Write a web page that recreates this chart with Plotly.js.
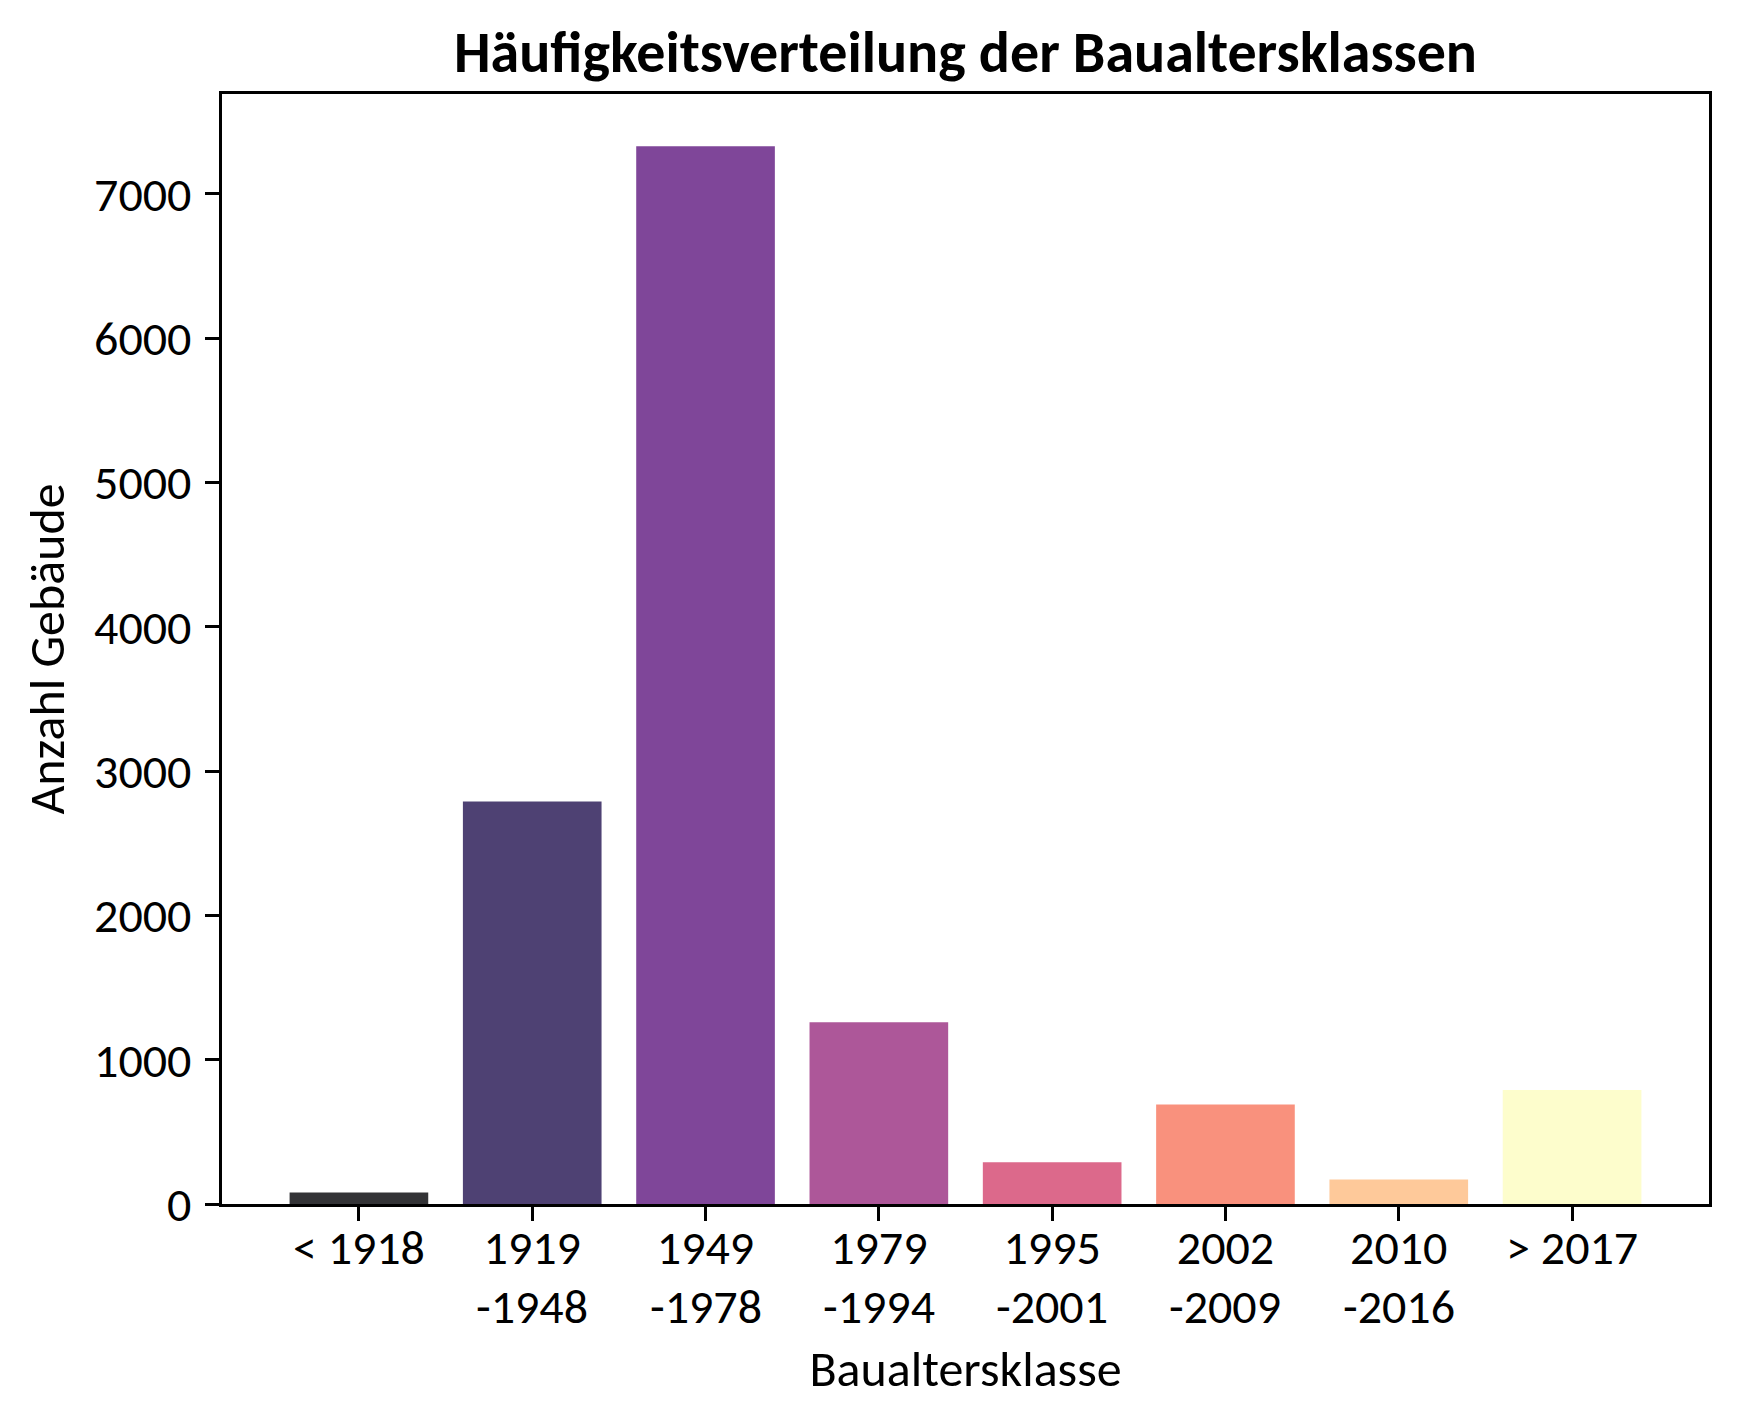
<!DOCTYPE html>
<html>
<head>
<meta charset="utf-8">
<script src="https://cdn.plot.ly/plotly-3.0.1.min.js"></script>
<style>
  body { margin: 0; background: #fff; }
  #chart { width: 1739px; height: 1418px; }
</style>
</head>
<body>
<div id="chart"></div>
<script>
// Baualtersklassen and number of buildings per class
const categories = ['< 1918', '1919-1948', '1949-1978', '1979-1994', '1995-2001', '2002-2009', '2010-2016', '> 2017'];
const tickLine1 = ['< 1918', '1919', '1949', '1979', '1995', '2002', '2010', '> 2017'];
const tickLine2 = ['', '-1948', '-1978', '-1994', '-2001', '-2009', '-2016', ''];
const counts = [80, 2790, 7330, 1260, 290, 690, 170, 790];
const yTicks = [0, 1000, 2000, 3000, 4000, 5000, 6000, 7000];

// magma colour steps, drawn with 0.8 opacity
const barColors = ['#000004', '#221150', '#5f187f', '#982d80', '#d3436e', '#f8765c', '#febb81', '#fcfdbf'];

const fontFamily = 'Carlito, Calibri, Lato, sans-serif';
const tickSize = 48;

const trace = {
  x: categories,
  y: counts,
  type: 'bar',
  marker: {
    color: barColors,
    opacity: 0.8,
    line: { width: 0 },
  },
  hoverinfo: 'none',
};

const axisLine = {
  showline: true,
  linecolor: '#000',
  linewidth: 3,
  mirror: true,
  ticks: 'outside',
  ticklen: 14,
  tickwidth: 3,
  tickcolor: '#000',
  showgrid: false,
  zeroline: false,
};

// second line of the two-line tick labels (plotly's <br> spacing is too loose)
const secondLines = categories
  .map((c, i) => ({ c, t: tickLine2[i] }))
  .filter((d) => d.t !== '')
  .map((d) => ({
    x: d.c,
    xref: 'x',
    y: 0,
    yref: 'paper',
    yanchor: 'middle',
    xanchor: 'center',
    yshift: -102,
    text: d.t,
    showarrow: false,
    font: { family: fontFamily, size: tickSize, color: '#000' },
  }));

const layout = {
  width: 1739,
  height: 1418,
  margin: { l: 222, r: 30, t: 94, b: 214 },
  paper_bgcolor: '#fff',
  plot_bgcolor: '#fff',
  font: { family: fontFamily, size: tickSize, color: '#000' },
  showlegend: false,
  bargap: 0.2,
  title: {
    text: '<b>Häufigkeitsverteilung der Baualtersklassen</b>',
    font: { family: fontFamily, size: 58, color: '#000' },
    x: 0.5,
    xref: 'paper',
    y: 1,
    yref: 'paper',
    yanchor: 'bottom',
    pad: { b: 22 },
  },
  xaxis: {
    ...axisLine,
    type: 'category',
    range: [-0.79, 7.79],
    tickvals: categories,
    ticktext: tickLine1,
    ticklabelstandoff: -15,
    tickfont: { family: fontFamily, size: tickSize, color: '#000' },
    title: {
      text: 'Baualtersklasse',
      font: { family: fontFamily, size: 50, color: '#000' },
      standoff: 76,
    },
  },
  yaxis: {
    ...axisLine,
    range: [0, 7692],
    tickvals: yTicks,
    tickfont: { family: fontFamily, size: tickSize, color: '#000' },
    ticklabelstandoff: 4,
    title: {
      text: 'Anzahl Gebäude',
      font: { family: fontFamily, size: 50, color: '#000' },
      standoff: 14,
    },
  },
  annotations: secondLines,
};

Plotly.newPlot('chart', [trace], layout, { staticPlot: true, displayModeBar: false });
</script>
</body>
</html>
